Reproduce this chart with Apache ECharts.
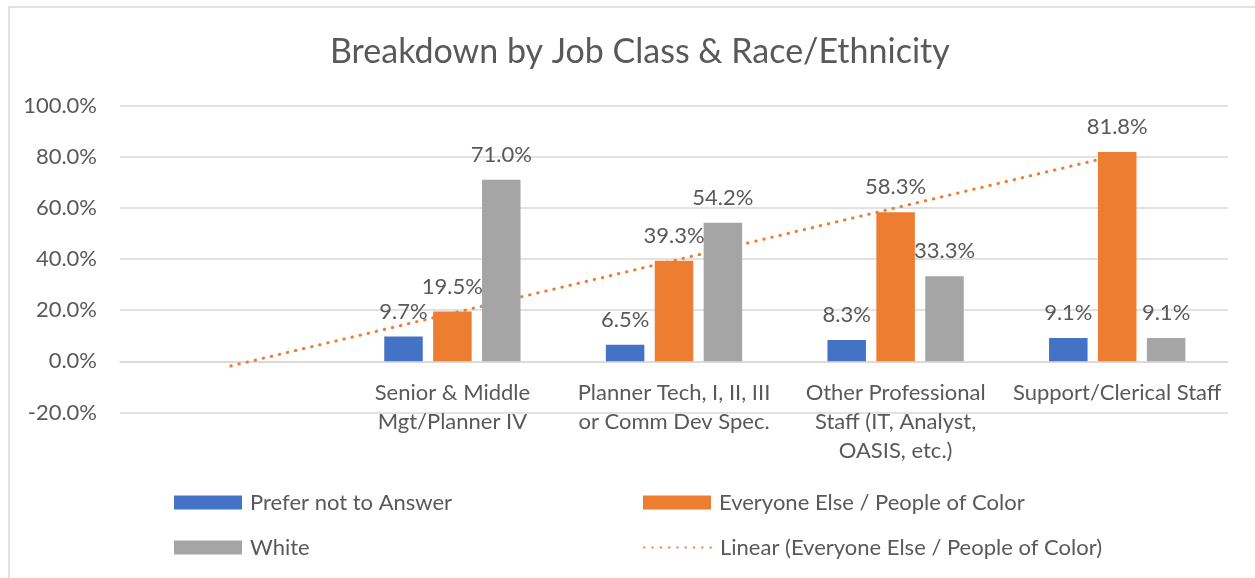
<!DOCTYPE html>
<html>
<head>
<meta charset="utf-8">
<script src="https://cdn.jsdelivr.net/npm/echarts@6/dist/echarts.min.js"></script>
<style>
html,body{margin:0;padding:0;background:#fff;}
#chart{width:1255px;height:578px;}
</style>
</head>
<body>
<div id="chart"></div>
<script>
const titleText = 'Breakdown by Job Class & Race/Ethnicity';
const categories = ['', 'Senior & Middle\nMgt/Planner IV', 'Planner Tech, I, II, III\nor Comm Dev Spec.', 'Other Professional\nStaff (IT, Analyst,\nOASIS, etc.)', 'Support/Clerical Staff'];
const seriesNames = ['Prefer not to Answer', 'Everyone Else / People of Color', 'White', 'Linear (Everyone Else / People of Color)'];
const preferNot = [null, 9.7, 6.5, 8.3, 9.1];
const everyoneElse = [null, 19.5, 39.3, 58.3, 81.8];
const white = [null, 71.0, 54.2, 33.3, 9.1];
const linearTrend = [-1.8, 18.8, 39.4, 60.0, 80.6];
const yTicks = {min: -20, max: 100, interval: 20};

const FONT = 'Lato';
const TXT = '#595959';
const LBL = 22;
const colors = ['#4472C4', '#ED7D31', '#A5A5A5'];

const GRID_TOP = 105.5, GRID_BOTTOM = 165.5, CHART_H = 578;
const plotH = CHART_H - GRID_TOP - GRID_BOTTOM;
// distance from plot bottom (min) up to the zero line
const zeroOffset = plotH * (0 - yTicks.min) / (yTicks.max - yTicks.min);

const chart = echarts.init(document.getElementById('chart'), null, {renderer: 'canvas'});

function barSeries(name, data, color) {
  return {
    name: name, type: 'bar', data: data, barWidth: 38.5, barGap: '27%', z: 3,
    itemStyle: {color: color},
    label: {show: true, position: 'top', distance: 14, color: TXT, fontFamily: FONT, fontSize: LBL,
      formatter: p => p.value == null ? '' : p.value.toFixed(1) + '%'}
  };
}

function legendAt(name, left, top, isLine) {
  const l = {
    data: [name], left: left, top: top, padding: 0, itemWidth: 68, itemHeight: 14,
    selectedMode: false,
    textStyle: {color: TXT, fontFamily: FONT, fontSize: LBL, padding: [0, 0, 0, 3]}
  };
  if (!isLine) l.icon = 'rect';
  else l.itemStyle = {opacity: 0};
  return l;
}

chart.setOption({
  animation: false,
  backgroundColor: '#fff',
  title: {
    text: titleText, left: 325, top: 30,
    textStyle: {color: TXT, fontFamily: FONT, fontSize: 34, fontWeight: 'normal'}
  },
  graphic: [{
    type: 'rect', shape: {x: 9, y: 7, width: 1400, height: 800},
    style: {fill: 'none', stroke: '#d9d9d9', lineWidth: 1.5}, silent: true
  }],
  legend: [
    legendAt(seriesNames[0], 174, 491.5, false),
    legendAt(seriesNames[1], 643, 491.5, false),
    legendAt(seriesNames[2], 174, 536.5, false),
    legendAt(seriesNames[3], 643, 536.5, true)
  ],
  grid: {left: 120, right: 27, top: GRID_TOP, bottom: GRID_BOTTOM, containLabel: false},
  xAxis: {
    type: 'category', data: categories, position: 'bottom', offset: -zeroOffset,
    axisLine: {onZero: false, lineStyle: {color: '#d9d9d9', width: 1.5}},
    axisTick: {show: false},
    axisLabel: {color: TXT, fontFamily: FONT, fontSize: LBL, lineHeight: 29, margin: 17, interval: 0}
  },
  yAxis: {
    type: 'value', min: yTicks.min, max: yTicks.max, interval: yTicks.interval,
    axisLine: {show: false}, axisTick: {show: false},
    splitLine: {lineStyle: {color: '#d9d9d9', width: 1.5}},
    axisLabel: {color: TXT, fontFamily: FONT, fontSize: LBL, margin: 23,
      formatter: v => v.toFixed(1) + '%'}
  },
  series: [
    barSeries(seriesNames[0], preferNot, colors[0]),
    barSeries(seriesNames[1], everyoneElse, colors[1]),
    barSeries(seriesNames[2], white, colors[2]),
    {
      name: seriesNames[3], type: 'line', data: linearTrend, z: 2,
      symbol: 'none', silent: true,
      itemStyle: {color: colors[1]},
      lineStyle: {color: colors[1], width: 3, type: [0.5, 7.8], cap: 'round'}
    }
  ]
});
</script>
</body>
</html>
